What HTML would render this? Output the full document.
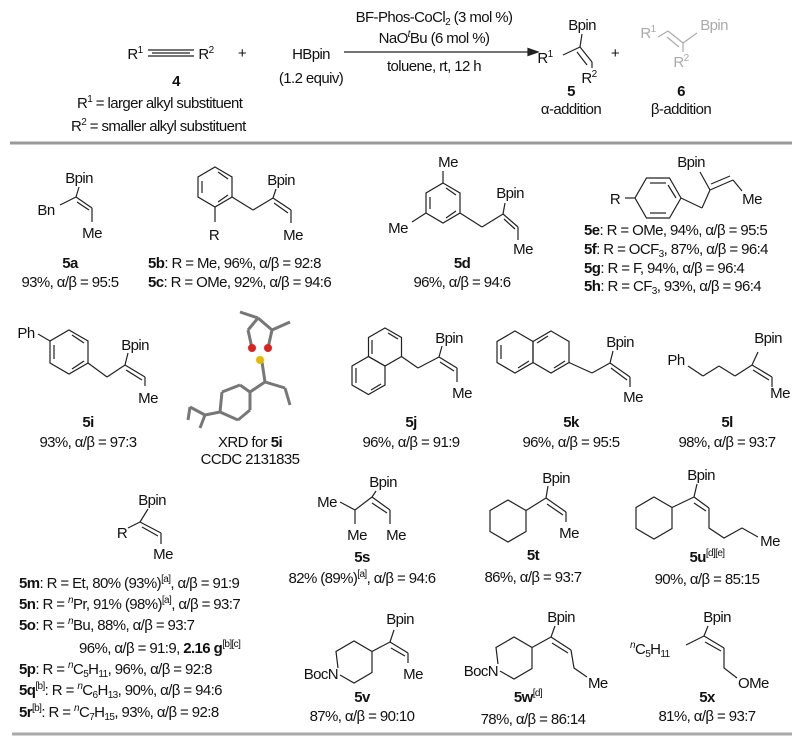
<!DOCTYPE html>
<html><head><meta charset="utf-8"><style>
html,body{margin:0;padding:0;background:#fff;}
svg{display:block;}
text{font-family:"Liberation Sans",sans-serif;font-size:15px;fill:#111;letter-spacing:-0.6px;}
.c{text-anchor:middle;}
.e{text-anchor:end;}
.b{font-weight:bold;}
.s{font-size:10px;}
line,polyline,polygon{stroke:#222;stroke-width:1.2;fill:none;}
.g line{stroke:#aaa;}
.g text{fill:#aaa;}
.x line{stroke:#777;stroke-width:3;}
</style></head><body>
<svg width="799" height="741" viewBox="0 0 799 741" xmlns="http://www.w3.org/2000/svg">
<!-- header -->
<text x="434" y="22" class="c">BF-Phos-CoCl<tspan class="s" dy="3">2</tspan><tspan dy="-3"> (3 mol %)</tspan></text>
<text x="434" y="43" class="c">NaO<tspan class="s" dy="-6" font-style="italic">t</tspan><tspan dy="6">Bu (6 mol %)</tspan></text>
<line x1="344" y1="52" x2="530" y2="52"/><polygon points="538,52 528,48.5 528,55.5" style="fill:#222"/>
<text x="434" y="71" class="c">toluene, rt, 12 h</text>
<text x="135" y="59" class="c">R<tspan class="s" dy="-6">1</tspan></text>
<line x1="148" y1="50" x2="194" y2="50"/><line x1="152" y1="53" x2="190" y2="53"/><line x1="148" y1="56" x2="194" y2="56"/>
<text x="206" y="59" class="c">R<tspan class="s" dy="-6">2</tspan></text>
<text x="176" y="86" class="c b">4</text>
<text x="242" y="58" class="c">+</text>
<text x="311" y="59" class="c">HBpin</text>
<text x="311" y="83" class="c">(1.2 equiv)</text>
<text x="77" y="108">R<tspan class="s" dy="-6">1</tspan><tspan dy="6"> = larger alkyl substituent</tspan></text>
<text x="71" y="131">R<tspan class="s" dy="-6">2</tspan><tspan dy="6"> = smaller alkyl substituent</tspan></text>
<!-- product 5 -->
<text x="582" y="30" class="c">Bpin</text>
<line x1="582" y1="34" x2="580" y2="47"/><line x1="580" y1="47" x2="563" y2="55"/>
<line x1="580" y1="47" x2="592" y2="62"/><line x1="577" y1="52" x2="587" y2="65"/>
<line x1="592" y1="62" x2="592" y2="68"/>
<text x="545" y="63" class="c">R<tspan class="s" dy="-6">1</tspan></text>
<text x="589" y="83" class="c">R<tspan class="s" dy="-6">2</tspan></text>
<text x="571" y="96" class="c b">5</text>
<text x="571" y="114" class="c">α-addition</text>
<text x="615" y="58" class="c">+</text>
<g class="g">
<text x="648" y="38" class="c">R<tspan class="s" dy="-6">1</tspan></text>
<line x1="658" y1="37" x2="668" y2="31"/><line x1="668" y1="31" x2="683" y2="43"/><line x1="667" y1="37" x2="679" y2="47"/>
<line x1="683" y1="43" x2="697" y2="33"/><text x="714" y="30" class="c">Bpin</text>
<line x1="683" y1="43" x2="683" y2="52"/><text x="681" y="67" class="c">R<tspan class="s" dy="-6">2</tspan></text>
</g>
<text x="681" y="96" class="c b">6</text>
<text x="681" y="114" class="c">β-addition</text>
<line x1="10" y1="143" x2="792" y2="143" style="stroke:#999;stroke-width:3"/>
<!-- 5a -->
<text x="79" y="183" class="c">Bpin</text>
<line x1="79" y1="187" x2="76" y2="197"/><line x1="76" y1="197" x2="60" y2="205"/>
<text x="46" y="215" class="c">Bn</text>
<line x1="76" y1="197" x2="92" y2="208"/><line x1="77" y1="202" x2="89" y2="210"/>
<line x1="92" y1="208" x2="92" y2="222"/>
<text x="92" y="238" class="c">Me</text>
<text x="70" y="268" class="c b">5a</text>
<text x="70" y="287" class="c">93%, α/β = 95:5</text>
<!-- 5b -->
<polygon points="215,167 232,177 232,197 215,207 198,197 198,177"/>
<line x1="218" y1="172" x2="228" y2="179"/><line x1="228" y1="195" x2="218" y2="202"/><line x1="202" y1="181" x2="202" y2="193"/>
<line x1="215" y1="207" x2="215" y2="222"/><text x="214" y="240" class="c">R</text>
<line x1="232" y1="197" x2="253" y2="210"/><line x1="253" y1="210" x2="273" y2="198"/>
<line x1="273" y1="198" x2="276" y2="189"/><text x="281" y="185" class="c">Bpin</text>
<line x1="273" y1="198" x2="291" y2="210"/><line x1="274" y1="203" x2="288" y2="213"/>
<line x1="291" y1="210" x2="291" y2="223"/><text x="293" y="240" class="c">Me</text>
<text x="148" y="268"><tspan class="b">5b</tspan>: R = Me, 96%, α/β = 92:8</text>
<text x="148" y="287"><tspan class="b">5c</tspan>: R = OMe, 92%, α/β = 94:6</text>
<!-- 5d -->
<polygon points="443,183 460,193 460,213 443,223 426,213 426,193"/>
<line x1="446" y1="188" x2="456" y2="195"/><line x1="456" y1="211" x2="446" y2="218"/><line x1="430" y1="197" x2="430" y2="209"/>
<line x1="443" y1="183" x2="443" y2="171"/><text x="448" y="167" class="c">Me</text>
<line x1="426" y1="213" x2="412" y2="222"/><text x="398" y="233" class="c">Me</text>
<line x1="460" y1="213" x2="482" y2="227"/><line x1="482" y1="227" x2="503" y2="214"/>
<line x1="503" y1="214" x2="505" y2="203"/><text x="510" y="198" class="c">Bpin</text>
<line x1="503" y1="214" x2="518" y2="227"/><line x1="504" y1="219" x2="515" y2="229"/>
<line x1="518" y1="227" x2="518" y2="240"/><text x="523" y="254" class="c">Me</text>
<text x="462" y="268" class="c b">5d</text>
<text x="462" y="287" class="c">96%, α/β = 94:6</text>
<!-- 5e -->
<polygon points="681,198 669.5,178 646.5,178 635,198 646.5,218 669.5,218"/>
<line x1="650" y1="183" x2="666" y2="183"/><line x1="650" y1="213" x2="666" y2="213"/><line x1="676" y1="198" x2="668" y2="185"/>
<line x1="635" y1="198" x2="625" y2="198"/><text x="615" y="204" class="c">R</text>
<line x1="681" y1="198" x2="702" y2="208"/><line x1="702" y1="208" x2="710" y2="190"/>
<line x1="710" y1="190" x2="700" y2="172"/><text x="691" y="167" class="c">Bpin</text>
<line x1="710" y1="190" x2="733" y2="180"/><line x1="711" y1="184" x2="730" y2="176"/>
<line x1="733" y1="180" x2="742" y2="191"/>
<text x="752" y="204" class="c">Me</text>
<text x="584" y="235"><tspan class="b">5e</tspan>: R = OMe, 94%, α/β = 95:5</text>
<text x="584" y="254"><tspan class="b">5f</tspan>: R = OCF<tspan class="s" dy="3">3</tspan><tspan dy="-3">, 87%, α/β = 96:4</tspan></text>
<text x="584" y="273"><tspan class="b">5g</tspan>: R = F, 94%, α/β = 96:4</text>
<text x="584" y="291"><tspan class="b">5h</tspan>: R = CF<tspan class="s" dy="3">3</tspan><tspan dy="-3">, 93%, α/β = 96:4</tspan></text>
<!-- 5i -->
<text x="26" y="338" class="c">Ph</text>
<line x1="38" y1="334" x2="50" y2="341"/>
<polygon points="69,330 88,341 88,363 69,374 50,363 50,341"/>
<line x1="72" y1="335" x2="84" y2="343"/><line x1="84" y1="361" x2="72" y2="369"/><line x1="54" y1="345" x2="54" y2="359"/>
<line x1="88" y1="363" x2="107" y2="377"/><line x1="107" y1="377" x2="125" y2="365"/>
<line x1="125" y1="365" x2="128" y2="353"/><text x="135" y="350" class="c">Bpin</text>
<line x1="125" y1="365" x2="145" y2="377"/><line x1="126" y1="370" x2="142" y2="380"/>
<line x1="145" y1="377" x2="145" y2="386"/><text x="148" y="403" class="c">Me</text>
<text x="88" y="427" class="c b">5i</text>
<text x="88" y="447" class="c">93%, α/β = 97:3</text>
<!-- XRD -->
<g class="x">
<line x1="258" y1="318" x2="248" y2="330"/><line x1="258" y1="318" x2="272" y2="330"/>
<line x1="240" y1="312" x2="258" y2="318"/><line x1="272" y1="330" x2="290" y2="322"/>
<line x1="248" y1="330" x2="252" y2="348"/><line x1="272" y1="330" x2="268" y2="348"/>
<line x1="262" y1="362" x2="265" y2="382"/><line x1="265" y1="382" x2="250" y2="392"/>
<line x1="265" y1="382" x2="285" y2="388"/><line x1="285" y1="388" x2="290" y2="405"/>
<line x1="250" y1="392" x2="240" y2="385"/><line x1="240" y1="385" x2="222" y2="392"/>
<line x1="222" y1="392" x2="220" y2="412"/><line x1="220" y1="412" x2="238" y2="420"/><line x1="238" y1="420" x2="250" y2="410"/><line x1="250" y1="410" x2="250" y2="392"/>
<line x1="220" y1="412" x2="205" y2="415"/><line x1="205" y1="415" x2="190" y2="407"/><line x1="190" y1="407" x2="188" y2="420"/><line x1="205" y1="415" x2="200" y2="428"/>
</g>
<circle cx="252" cy="348" r="4" fill="#d22"/><circle cx="268" cy="348" r="4" fill="#d22"/>
<circle cx="260" cy="360" r="4" fill="#e8b800"/>
<text x="250" y="447" class="c">XRD for <tspan class="b">5i</tspan></text>
<text x="250" y="464" class="c">CCDC 2131835</text>
<!-- 5j -->
<polygon points="385,328 401.5,337.5 401.5,356.5 385,366 368.5,356.5 368.5,337.5"/>
<polygon points="368.5,356.5 385,366 385,385 368.5,394.5 352,385 352,366"/>
<line x1="388" y1="333" x2="398" y2="339"/><line x1="372" y1="340" x2="372" y2="354"/><line x1="356" y1="368" x2="356" y2="383"/><line x1="371" y1="390" x2="381" y2="384"/>
<line x1="401.5" y1="356.5" x2="418" y2="368"/><line x1="418" y1="368" x2="439" y2="357"/>
<line x1="439" y1="357" x2="442" y2="346"/><text x="449" y="343" class="c">Bpin</text>
<line x1="439" y1="357" x2="457" y2="368"/><line x1="440" y1="362" x2="454" y2="371"/>
<line x1="457" y1="368" x2="457" y2="382"/><text x="462" y="398" class="c">Me</text>
<text x="411" y="427" class="c b">5j</text>
<text x="411" y="447" class="c">96%, α/β = 91:9</text>
<!-- 5k -->
<polygon points="515,331 533,341.5 533,362.5 515,373 497,362.5 497,341.5"/>
<polygon points="551,331 569,341.5 569,362.5 551,373 533,362.5 533,341.5"/>
<line x1="501" y1="345" x2="501" y2="359"/><line x1="518" y1="368" x2="529" y2="361"/><line x1="537" y1="343" x2="548" y2="336"/><line x1="554" y1="368" x2="565" y2="361"/>
<line x1="569" y1="362.5" x2="592" y2="373"/><line x1="592" y1="373" x2="610" y2="363"/>
<line x1="610" y1="363" x2="613" y2="351"/><text x="620" y="347" class="c">Bpin</text>
<line x1="610" y1="363" x2="630" y2="377"/><line x1="611" y1="368" x2="627" y2="380"/>
<line x1="630" y1="377" x2="630" y2="387"/><text x="633" y="402" class="c">Me</text>
<text x="571" y="427" class="c b">5k</text>
<text x="571" y="447" class="c">96%, α/β = 95:5</text>
<!-- 5l -->
<text x="676" y="365" class="c">Ph</text>
<line x1="688" y1="366" x2="703" y2="376"/><line x1="703" y1="376" x2="719" y2="366"/><line x1="719" y1="366" x2="735" y2="376"/><line x1="735" y1="376" x2="752" y2="365"/>
<line x1="752" y1="365" x2="758" y2="352"/><text x="768" y="343" class="c">Bpin</text>
<line x1="752" y1="365" x2="772" y2="377"/><line x1="753" y1="370" x2="769" y2="380"/>
<line x1="772" y1="377" x2="772" y2="387"/><text x="780" y="398" class="c">Me</text>
<text x="727" y="427" class="c b">5l</text>
<text x="727" y="447" class="c">98%, α/β = 93:7</text>
<!-- 5m -->
<text x="152" y="505" class="c">Bpin</text>
<line x1="148" y1="509" x2="140" y2="522"/><line x1="140" y1="522" x2="128" y2="528"/>
<text x="122" y="538" class="c">R</text>
<line x1="140" y1="522" x2="161" y2="533"/><line x1="142" y1="527" x2="158" y2="536"/>
<line x1="161" y1="533" x2="161" y2="544"/><text x="163" y="559" class="c">Me</text>
<text x="19" y="588"><tspan class="b">5m</tspan>: R = Et, 80% (93%)<tspan class="s" dy="-6">[a]</tspan><tspan dy="6">, α/β = 91:9</tspan></text>
<text x="19" y="609"><tspan class="b">5n</tspan>: R = <tspan class="s" dy="-6" font-style="italic">n</tspan><tspan dy="6">Pr, 91% (98%)</tspan><tspan class="s" dy="-6">[a]</tspan><tspan dy="6">, α/β = 93:7</tspan></text>
<text x="19" y="630"><tspan class="b">5o</tspan>: R = <tspan class="s" dy="-6" font-style="italic">n</tspan><tspan dy="6">Bu, 88%, α/β = 93:7</tspan></text>
<text x="79" y="653">96%, α/β = 91:9, <tspan class="b">2.16 g</tspan><tspan class="s" dy="-6">[b][c]</tspan></text>
<text x="19" y="674"><tspan class="b">5p</tspan>: R = <tspan class="s" dy="-6" font-style="italic">n</tspan><tspan dy="6">C</tspan><tspan class="s" dy="3">5</tspan><tspan dy="-3">H</tspan><tspan class="s" dy="3">11</tspan><tspan dy="-3">, 96%, α/β = 92:8</tspan></text>
<text x="19" y="695"><tspan class="b">5q</tspan><tspan class="s" dy="-6">[b]</tspan><tspan dy="6">: R = </tspan><tspan class="s" dy="-6" font-style="italic">n</tspan><tspan dy="6">C</tspan><tspan class="s" dy="3">6</tspan><tspan dy="-3">H</tspan><tspan class="s" dy="3">13</tspan><tspan dy="-3">, 90%, α/β = 94:6</tspan></text>
<text x="19" y="717"><tspan class="b">5r</tspan><tspan class="s" dy="-6">[b]</tspan><tspan dy="6">: R = </tspan><tspan class="s" dy="-6" font-style="italic">n</tspan><tspan dy="6">C</tspan><tspan class="s" dy="3">7</tspan><tspan dy="-3">H</tspan><tspan class="s" dy="3">15</tspan><tspan dy="-3">, 93%, α/β = 92:8</tspan></text>
<!-- 5s -->
<text x="383" y="487" class="c">Bpin</text>
<text x="327" y="507" class="c">Me</text>
<line x1="340" y1="502" x2="355" y2="510"/>
<line x1="355" y1="510" x2="372" y2="497"/><line x1="372" y1="497" x2="376" y2="491"/>
<line x1="355" y1="510" x2="355" y2="524"/>
<line x1="372" y1="497" x2="390" y2="510"/><line x1="372" y1="503" x2="387" y2="513"/>
<line x1="390" y1="510" x2="390" y2="524"/>
<text x="357" y="540" class="c">Me</text><text x="396" y="540" class="c">Me</text>
<text x="362" y="562" class="c b">5s</text>
<text x="362" y="583" class="c">82% (89%)<tspan class="s" dy="-6">[a]</tspan><tspan dy="6">, α/β = 94:6</tspan></text>
<!-- 5t -->
<polygon points="508,500 526,510.5 526,531.5 508,542 490,531.5 490,510.5"/>
<line x1="526" y1="510.5" x2="546" y2="498"/><line x1="546" y1="498" x2="548" y2="486"/>
<text x="556" y="483" class="c">Bpin</text>
<line x1="546" y1="498" x2="566" y2="512"/><line x1="547" y1="504" x2="563" y2="515"/>
<line x1="566" y1="512" x2="566" y2="522"/><text x="569" y="538" class="c">Me</text>
<text x="533" y="560" class="c b">5t</text>
<text x="533" y="582" class="c">86%, α/β = 93:7</text>
<!-- 5u -->
<polygon points="654,497 672,507.5 672,528.5 654,539 636,528.5 636,507.5"/>
<line x1="672" y1="507.5" x2="694" y2="497"/><line x1="694" y1="497" x2="697" y2="484"/>
<text x="701" y="480" class="c">Bpin</text>
<line x1="694" y1="497" x2="709" y2="508"/><line x1="694" y1="503" x2="706" y2="511"/>
<polyline points="709,508 709,528 724,538 742,528 758,537"/>
<text x="770" y="546" class="c">Me</text>
<text x="707" y="562" class="c b">5u<tspan class="s" dy="-6" font-weight="normal">[d][e]</tspan></text>
<text x="707" y="584" class="c">90%, α/β = 85:15</text>
<!-- 5v -->
<polyline points="338,668 336,651.5 354,641 372,651.5 372,672.5 354,683 340,675"/>
<line x1="372" y1="651.5" x2="390" y2="642"/><line x1="390" y1="642" x2="394" y2="630"/>
<text x="400" y="624" class="c">Bpin</text>
<line x1="390" y1="642" x2="408" y2="653"/><line x1="391" y1="648" x2="405" y2="656"/>
<line x1="408" y1="653" x2="408" y2="663"/><text x="413" y="679" class="c">Me</text>
<text x="338" y="679" class="e">BocN</text>
<text x="362" y="702" class="c b">5v</text>
<text x="362" y="721" class="c">87%, α/β = 90:10</text>
<!-- 5w -->
<polyline points="498,664 496,647.5 514,637 532,647.5 532,668.5 514,679 500,671"/>
<line x1="532" y1="647.5" x2="551" y2="637"/><line x1="551" y1="637" x2="555" y2="626"/>
<text x="561" y="622" class="c">Bpin</text>
<line x1="551" y1="637" x2="571" y2="650"/><line x1="552" y1="643" x2="568" y2="653"/>
<polyline points="571,650 574,668 587,677"/>
<text x="588" y="688">Me</text>
<text x="498" y="676" class="e">BocN</text>
<text x="528" y="702" class="c b">5w<tspan class="s" dy="-6" font-weight="normal">[d]</tspan></text>
<text x="533" y="724" class="c">78%, α/β = 86:14</text>
<!-- 5x -->
<text x="630" y="654"><tspan class="s" dy="-6" font-style="italic">n</tspan><tspan dy="6">C</tspan><tspan class="s" dy="3">5</tspan><tspan dy="-3">H</tspan><tspan class="s" dy="3">11</tspan></text>
<line x1="686" y1="645" x2="704" y2="636"/><line x1="704" y1="636" x2="708" y2="626"/>
<text x="717" y="622" class="c">Bpin</text>
<line x1="704" y1="636" x2="724" y2="648"/><line x1="705" y1="642" x2="721" y2="651"/>
<polyline points="724,648 724,668 737,678"/>
<text x="738" y="688">OMe</text>
<text x="707" y="702" class="c b">5x</text>
<text x="707" y="721" class="c">81%, α/β = 93:7</text>
<line x1="12" y1="734" x2="792" y2="734" style="stroke:#aaa;stroke-width:3"/>
</svg>
</body></html>
